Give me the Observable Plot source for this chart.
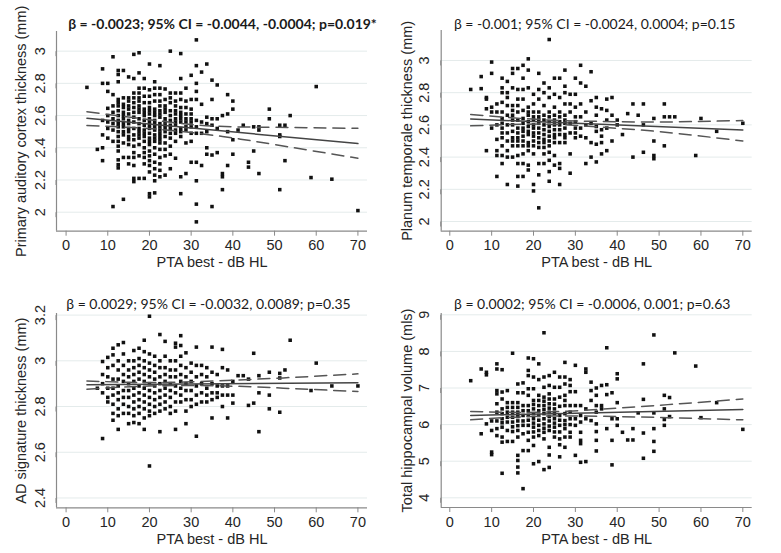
<!DOCTYPE html>
<html><head><meta charset="utf-8">
<script src="https://cdn.jsdelivr.net/npm/d3@7"></script>
<script src="https://cdn.jsdelivr.net/npm/@observablehq/plot@0.6"></script>
<style>
body{margin:0;background:#fff;}
#root{position:relative;width:781px;height:553px;overflow:hidden;}
.panel{position:absolute;}
.panel svg{overflow:visible;}
</style></head><body><div id="root"></div>
<script>
// ---------- data (PTA best dB HL -> list of measured values) ----------
const xTicks = [0, 10, 20, 30, 40, 50, 60, 70];
const xTitle = "PTA best - dB HL";

// Panel A: Primary auditory cortex thickness (mm)
const pacTitle = "β = -0.0023; 95% CI = -0.0044, -0.0004; p=0.019*";
const pacYTitle = "Primary auditory cortex thickness (mm)";
const pacYTicks = [2, 2.2, 2.4, 2.6, 2.8, 3];
const pacColumns = [
  [5,[2.775]],[7.5,[2.39]],
  [8.75,[2.89,2.80,2.57,2.48,2.40,2.32]],
  [10,[2.80,2.75,2.645,2.60,2.56,2.52,2.46]],
  [11.25,[2.965,2.73,2.66,2.62,2.58,2.55,2.51,2.44,2.035]],
  [12.5,[2.88,2.855,2.81,2.70,2.68,2.66,2.63,2.60,2.57,2.55,2.53,2.50,2.47,2.44,2.41,2.38,2.325,2.295,2.275]],
  [13.75,[2.88,2.71,2.67,2.65,2.62,2.60,2.58,2.55,2.53,2.50,2.48,2.43,2.34,2.08]],
  [15,[2.84,2.71,2.69,2.66,2.64,2.61,2.57,2.55,2.52,2.50,2.47,2.45,2.42,2.34,2.30]],
  [16.25,[2.98,2.83,2.74,2.71,2.68,2.65,2.62,2.59,2.56,2.52,2.48,2.45,2.41,2.37,2.34,2.29,2.21,2.19]],
  [17.5,[2.99,2.865,2.77,2.74,2.71,2.69,2.66,2.64,2.62,2.58,2.55,2.52,2.50,2.48,2.46,2.42,2.35,2.21]],
  [18.75,[2.83,2.77,2.72,2.68,2.64,2.62,2.60,2.57,2.54,2.51,2.49,2.47,2.44,2.40,2.37,2.34,2.30,2.21]],
  [20,[2.92,2.76,2.72,2.68,2.65,2.63,2.61,2.58,2.56,2.54,2.52,2.49,2.46,2.44,2.42,2.38,2.35,2.32,2.29,2.25,2.115,2.095]],
  [21.25,[2.81,2.77,2.73,2.69,2.64,2.62,2.60,2.57,2.55,2.53,2.51,2.48,2.46,2.44,2.40,2.36,2.31,2.27,2.23,2.195,2.12]],
  [22.5,[2.91,2.77,2.73,2.69,2.66,2.63,2.61,2.59,2.55,2.53,2.51,2.49,2.47,2.45,2.43,2.39,2.34,2.30,2.26,2.22]],
  [23.75,[2.765,2.70,2.66,2.64,2.62,2.58,2.56,2.54,2.52,2.50,2.47,2.43,2.39,2.35,2.23]],
  [25,[3.0,2.74,2.71,2.68,2.63,2.60,2.57,2.54,2.52,2.49,2.46,2.41,2.36,2.27]],
  [26.25,[2.74,2.69,2.66,2.63,2.61,2.58,2.56,2.54,2.51,2.49,2.44,2.335]],
  [27.5,[2.985,2.83,2.74,2.70,2.65,2.62,2.60,2.58,2.56,2.52,2.50,2.47,2.22,2.115]],
  [28.75,[2.77,2.69,2.65,2.61,2.58,2.56,2.53,2.51,2.43,2.24]],
  [30,[2.85,2.70,2.64,2.61,2.58,2.56,2.53,2.49,2.44,2.31]],
  [31.25,[3.07,2.91,2.80,2.75,2.70,2.57,2.53,2.49,2.31,2.195,2.05,1.94]],
  [32.5,[2.87,2.67,2.56,2.49,2.29]],
  [33.75,[2.92,2.59,2.55,2.50,2.40,2.36]],
  [35,[2.82,2.70,2.58,2.54,2.355,2.035]],
  [36.25,[2.79,2.58,2.52,2.37]],
  [37.5,[2.60,2.24,2.22,2.14]],
  [38.75,[2.73,2.61,2.50,2.29]],
  [40,[2.69,2.64,2.45,2.36]],
  [41.25,[2.51]],[42.5,[2.54]],[43.75,[2.31,2.28]],[45,[2.53,2.38]],
  [46.25,[2.53,2.51,2.24]],[48.75,[2.64,2.58]],[51.25,[2.54,2.48,2.47,2.14]],
  [52.5,[2.54,2.32]],[53.75,[2.60]],[58.75,[2.215]],[60,[2.78]],[63.75,[2.205]],[70,[2.01]]
];
const pacFit = [[5,2.583],[70,2.426]];
const pacUpper = [[5,2.624],[22,2.568],[35,2.535],[50,2.527],[70,2.521]];
const pacLower = [[5,2.538],[22,2.515],[37.5,2.47],[50,2.42],[70,2.335]];

// Panel B: Planum temporale thickness (mm)
const ptTitle = "β = -0.001; 95% CI = -0.0024, 0.0004; p=0.15";
const ptYTitle = "Planum temporale thickness (mm)";
const ptYTicks = [2, 2.2, 2.4, 2.6, 2.8, 3];
const ptColumns = [
  [5,[2.82]],[7.5,[2.90,2.825]],
  [8.75,[2.77,2.76,2.70,2.44]],
  [10,[2.99,2.92,2.71,2.68,2.58]],
  [11.25,[2.73,2.68,2.60,2.51,2.44,2.41,2.28]],
  [12.5,[2.89,2.83,2.80,2.74,2.68,2.64,2.61,2.58,2.55,2.52,2.47,2.41,2.36]],
  [13.75,[2.87,2.80,2.77,2.72,2.66,2.60,2.55,2.50,2.44,2.40,2.23]],
  [15,[2.95,2.92,2.83,2.72,2.69,2.66,2.63,2.60,2.56,2.52,2.50,2.47,2.40]],
  [16.25,[2.95,2.82,2.76,2.72,2.68,2.63,2.58,2.55,2.52,2.50,2.47,2.41,2.36,2.28,2.22]],
  [17.5,[2.97,2.89,2.82,2.76,2.69,2.64,2.61,2.58,2.56,2.53,2.50,2.47,2.42,2.36,2.28]],
  [18.75,[3.01,2.94,2.83,2.71,2.68,2.66,2.62,2.59,2.56,2.54,2.49,2.47,2.44,2.35,2.32]],
  [20,[2.79,2.73,2.68,2.65,2.63,2.60,2.58,2.55,2.53,2.50,2.47,2.42,2.23,2.19]],
  [21.25,[2.92,2.82,2.76,2.68,2.65,2.63,2.61,2.58,2.55,2.52,2.49,2.46,2.36,2.29,2.085]],
  [22.5,[2.86,2.80,2.72,2.66,2.63,2.60,2.57,2.54,2.51,2.49,2.46,2.42,2.36]],
  [23.75,[3.13,2.83,2.77,2.68,2.65,2.62,2.59,2.56,2.53,2.50,2.47,2.43,2.38,2.31,2.25]],
  [25,[2.89,2.79,2.71,2.66,2.63,2.60,2.57,2.54,2.52,2.49,2.41,2.35]],
  [26.25,[2.89,2.77,2.68,2.65,2.62,2.60,2.57,2.54,2.49,2.36,2.33,2.23]],
  [27.5,[2.94,2.84,2.80,2.73,2.66,2.63,2.61,2.58,2.54,2.52,2.49]],
  [28.75,[2.79,2.73,2.68,2.61,2.55,2.42,2.30]],
  [30,[2.89,2.79,2.71,2.65,2.62,2.58,2.55,2.52]],
  [31.25,[2.97,2.86,2.73,2.65,2.58,2.53]],
  [32.5,[2.84,2.68,2.60,2.52,2.36]],
  [33.75,[2.93,2.75,2.61,2.49,2.40]],
  [35,[2.77,2.71,2.66,2.59,2.56,2.48,2.37]],
  [36.25,[2.70,2.57,2.53,2.49,2.42]],
  [37.5,[2.76,2.69,2.63,2.58,2.44]],
  [38.75,[2.77,2.66,2.50]],
  [40,[2.63,2.60]],[41.25,[2.54]],[42.5,[2.67]],[43.75,[2.73,2.40]],[45,[2.66]],
  [46.25,[2.73,2.60,2.43]],[48.75,[2.64,2.50,2.41,2.39]],[51.25,[2.73,2.65,2.47]],
  [52.5,[2.65]],[53.75,[2.65]],[58.75,[2.41]],[60,[2.64]],[63.75,[2.56]],[70,[2.61]]
];
const ptFit = [[5,2.636],[70,2.568]];
const ptUpper = [[5,2.665],[22,2.632],[35,2.622],[50,2.618],[70,2.627]];
const ptLower = [[5,2.594],[22,2.605],[35,2.588],[50,2.558],[70,2.50]];

// Panel C: AD signature thickness (mm)
const adTitle = "β = 0.0029; 95% CI = -0.0032, 0.0089; p=0.35";
const adYTitle = "AD signature thickness (mm)";
const adYTicks = [2.4, 2.6, 2.8, 3, 3.2];
const adColumns = [
  [7.5,[2.88]],
  [8.75,[2.997,2.94,2.90,2.86,2.66]],
  [10,[3.015,2.97,2.93,2.88,2.84,2.82]],
  [11.25,[3.055,3.026,2.98,2.92,2.88,2.85,2.81,2.77,2.74]],
  [12.5,[3.07,3.0,2.96,2.92,2.89,2.86,2.83,2.79,2.76,2.70]],
  [13.75,[3.08,3.03,2.98,2.94,2.91,2.87,2.84,2.81,2.77]],
  [15,[3.0,2.96,2.93,2.90,2.87,2.84,2.80,2.77,2.725]],
  [16.25,[3.045,3.0,2.97,2.94,2.91,2.88,2.85,2.82,2.79,2.76,2.73]],
  [17.5,[3.055,3.01,2.98,2.95,2.92,2.89,2.86,2.83,2.80,2.77,2.725]],
  [18.75,[3.09,3.04,3.0,2.97,2.94,2.91,2.88,2.85,2.82,2.79,2.75,2.70]],
  [20,[3.195,3.03,2.99,2.96,2.93,2.90,2.87,2.84,2.81,2.78,2.76,2.54]],
  [21.25,[3.02,2.98,2.95,2.92,2.89,2.86,2.83,2.80,2.77]],
  [22.5,[3.115,3.0,2.97,2.93,2.90,2.87,2.84,2.81,2.78,2.69]],
  [23.75,[3.085,3.02,2.97,2.94,2.91,2.88,2.85,2.82,2.79]],
  [25,[3.0,2.96,2.93,2.90,2.87,2.84,2.80,2.77]],
  [26.25,[3.077,3.06,3.0,2.96,2.93,2.89,2.86,2.82,2.78,2.70]],
  [27.5,[3.11,3.067,3.02,2.98,2.94,2.91,2.88,2.85,2.82]],
  [28.75,[3.035,2.97,2.93,2.90,2.87,2.83,2.78,2.725]],
  [30,[2.99,2.95,2.91,2.87,2.83,2.80]],
  [31.25,[3.06,2.98,2.93,2.89,2.85,2.81,2.67]],
  [32.5,[2.98,2.94,2.90,2.86,2.82]],
  [33.75,[2.97,2.93,2.88,2.85,2.82]],
  [35,[3.06,2.95,2.90,2.86,2.83,2.75]],
  [36.25,[2.94,2.89,2.86,2.84]],
  [37.5,[3.05,2.97,2.89,2.85,2.80]],
  [38.75,[2.96,2.89,2.85,2.75]],
  [40,[2.91,2.85,2.815]],[41.25,[2.935]],[42.5,[2.935]],[43.75,[2.92,2.805]],
  [45,[3.033,2.815]],[46.25,[2.935,2.86,2.69]],[48.75,[2.95,2.85,2.79]],
  [51.25,[2.945,2.925,2.775]],[52.5,[2.96]],[53.75,[3.09]],[58.75,[2.87]],
  [60,[2.99]],[63.75,[2.89]],[70,[2.89]]
];
const adFit = [[5,2.895],[70,2.904]];
const adUpper = [[5,2.912],[22,2.905],[40,2.915],[55,2.928],[70,2.943]];
const adLower = [[5,2.876],[22,2.891],[40,2.889],[55,2.878],[70,2.866]];

// Panel D: Total hippocampal volume (mls)
const hipTitle = "β = 0.0002; 95% CI = -0.0006, 0.001; p=0.63";
const hipYTitle = "Total hippocampal volume (mls)";
const hipYTicks = [4, 5, 6, 7, 8, 9];
const hipColumns = [
  [5,[7.2]],[7.5,[7.52,5.75]],[8.75,[7.43,7.36,6.02]],
  [10,[6.1,5.84,5.25,5.18]],
  [11.25,[7.66,7.52,6.93,6.84,6.57,6.34,6.1,5.89,5.7]],
  [12.5,[7.5,6.89,6.7,6.43,6.3,6.16,6.05,5.93,5.66,5.52,4.67]],
  [13.75,[6.93,6.6,6.47,6.34,6.2,6.07,5.84,5.54]],
  [15,[7.95,6.6,6.47,6.34,6.2,6.07,5.94,5.81,5.54]],
  [16.25,[7.11,6.87,6.6,6.47,6.34,6.22,6.1,5.97,5.84,5.66,5.16,5.02,4.84,4.68]],
  [17.5,[7.14,6.87,6.52,6.38,6.25,6.1,5.98,5.75,5.29,4.25]],
  [18.75,[7.82,7.48,7.34,6.98,6.8,6.52,6.38,6.25,6.12,5.98,5.79,5.57,5.29]],
  [20,[7.8,7.3,6.98,6.66,6.55,6.43,6.3,6.16,6.04,5.93,5.8,5.66,5.43,4.93]],
  [21.25,[7.66,7.23,6.8,6.66,6.52,6.38,6.25,6.12,5.98,5.84,5.7,4.99]],
  [22.5,[8.51,7.3,7.02,6.75,6.64,6.52,6.41,6.3,6.16,6.02,5.9,5.79,5.61,4.77]],
  [23.75,[7.34,7.07,6.84,6.7,6.57,6.45,6.34,6.22,6.1,5.96,5.84,5.38,5.17,4.83]],
  [25,[7.43,7.02,6.7,6.56,6.43,6.3,6.16,6.04,5.93,5.8,5.66]],
  [26.25,[7.3,7.02,6.75,6.5,6.25,6.12,5.98,5.8,5.61,5.45,5.12]],
  [27.5,[7.7,7.3,7.11,6.8,6.66,6.52,6.3,6.11,6.0,5.89,5.66,5.38]],
  [28.75,[7.23,7.07,6.9,6.52,6.34,6.16,6.0,5.79,5.66]],
  [30,[7.62,6.9,6.52,6.16,5.98,5.16]],
  [31.25,[6.52,6.25,6.07,5.79,5.57,5.48,4.97]],
  [32.5,[7.52,7.43,6.43,6.16,4.99]],
  [33.75,[7.16,6.93,6.66,6.11]],
  [35,[7.0,6.8,6.52,6.34,6.02,5.81,5.57,5.28]],
  [36.25,[7.07,6.52,6.43]],
  [37.5,[8.1,7.09,6.82,5.89]],
  [38.75,[6.87,6.16,5.57,4.9]],
  [40,[7.39,7.25,6.6,6.16,5.98]],
  [41.25,[5.79]],[42.5,[5.58]],[43.75,[5.89,5.58]],[45,[6.32]],
  [46.25,[7.66,6.69,5.77,5.08]],[48.75,[8.45,6.32,5.89,5.54,5.27]],
  [51.25,[6.8,6.43,6.14,5.98]],[52.5,[6.74,6.22]],[53.75,[7.96]],
  [58.75,[7.6]],[60,[6.19]],[63.75,[6.6]],[70,[5.87]]
];
const hipFit = [[5,6.25],[70,6.41]];
const hipUpper = [[5,6.36],[22,6.34],[40,6.45],[55,6.57],[70,6.70]];
const hipLower = [[5,6.13],[22,6.23],[40,6.22],[55,6.18],[70,6.13]];

// ---------- layout ----------
const toPoints = cols => cols.flatMap(([x, ys]) => ys.map(y => ({x, y})));
const toXY = arr => arr.map(([x, y]) => ({x, y}));

const panels = [
  {cols: pacColumns, fit: pacFit, up: pacUpper, lo: pacLower, title: pacTitle, bold: true, ytitle: pacYTitle, yticks: pacYTicks,
   left: 0, top: 0, w: 390, h: 276, mL: 56, mR: 23, mT: 31, mB: 45.3, xd: [-2.3, 72.3], yd: [1.882, 3.122], tdx: 10.5, tdy: -12, ytx: -35},
  {cols: ptColumns, fit: ptFit, up: ptUpper, lo: ptLower, title: ptTitle, bold: false, ytitle: ptYTitle, yticks: ptYTicks,
   left: 390, top: 0, w: 391, h: 276, mL: 50.7, mR: 29.3, mT: 30, mB: 45.3, xd: [-2.05, 72.24], yd: [1.94, 3.186], tdx: -2, tdy: -11.5, ytx: -34},
  {cols: adColumns, fit: adFit, up: adUpper, lo: adLower, title: adTitle, bold: false, ytitle: adYTitle, yticks: adYTicks,
   left: 0, top: 276, w: 390, h: 277, mL: 56, mR: 23, mT: 37, mB: 45.7, xd: [-2.3, 72.3], yd: [2.357, 3.207], tdx: -3.5, tdy: -14, ytx: -35},
  {cols: hipColumns, fit: hipFit, up: hipUpper, lo: hipLower, title: hipTitle, bold: false, ytitle: hipYTitle, yticks: hipYTicks,
   left: 390, top: 276, w: 391, h: 277, mL: 50.7, mR: 29.3, mT: 37, mB: 46, xd: [-2.05, 72.24], yd: [3.735, 9.036], tdx: -4.5, tdy: -14, ytx: -34}
];

const root = document.getElementById("root");
const axisColor = "#8a8a8a";
const textColor = "#262626";

for (const p of panels) {
  const chart = Plot.plot({
    width: p.w, height: p.h,
    marginLeft: p.mL, marginRight: p.mR, marginTop: p.mT, marginBottom: p.mB,
    style: {fontFamily: "'Liberation Sans', Arial, sans-serif", fontSize: "14.5px", color: textColor, background: "transparent", overflow: "visible"},
    x: {domain: p.xd},
    y: {domain: p.yd},
    marks: [
      Plot.gridY(p.yticks, {stroke: "#e4ebeb", strokeOpacity: 1, strokeWidth: 1}),
      Plot.ruleX([p.xd[0]], {stroke: axisColor, strokeWidth: 1.2}),
      Plot.ruleY([p.yd[0]], {stroke: axisColor, strokeWidth: 1.2}),
      Plot.axisX(xTicks, {tickSize: 5, tickPadding: 4, stroke: axisColor, fill: textColor, label: null}),
      Plot.axisY(p.yticks, {tickSize: 5, tickPadding: 7, rotate: -90, textAnchor: "middle", lineAnchor: "bottom", stroke: axisColor, fill: textColor, label: null, tickFormat: d => String(d)}),
      Plot.dot(toPoints(p.cols), {x: "x", y: "y", symbol: "square", r: 2, fill: "#111", stroke: null}),
      Plot.line(toXY(p.up), {x: "x", y: "y", curve: "natural", stroke: "#555", strokeWidth: 1.5, strokeDasharray: "12,7"}),
      Plot.line(toXY(p.lo), {x: "x", y: "y", curve: "natural", stroke: "#555", strokeWidth: 1.5, strokeDasharray: "12,7"}),
      Plot.line(toXY(p.fit), {x: "x", y: "y", stroke: "#444", strokeWidth: 1.5}),
      Plot.text([p.title], {frameAnchor: "top", dx: p.tdx, dy: p.tdy, fontFamily: "Lato, 'Open Sans', sans-serif", fontSize: 14, fontWeight: p.bold ? "bold" : "normal", fill: "#1a1a1a"}),
      Plot.text([p.ytitle], {frameAnchor: "left", textAnchor: "middle", rotate: -90, dx: p.ytx, fill: textColor}),
      Plot.text([xTitle], {frameAnchor: "bottom", lineAnchor: "top", dy: 26, fill: textColor})
    ]
  });
  const div = document.createElement("div");
  div.className = "panel";
  div.style.left = p.left + "px";
  div.style.top = p.top + "px";
  div.appendChild(chart);
  root.appendChild(div);
}
</script>
</body></html>
